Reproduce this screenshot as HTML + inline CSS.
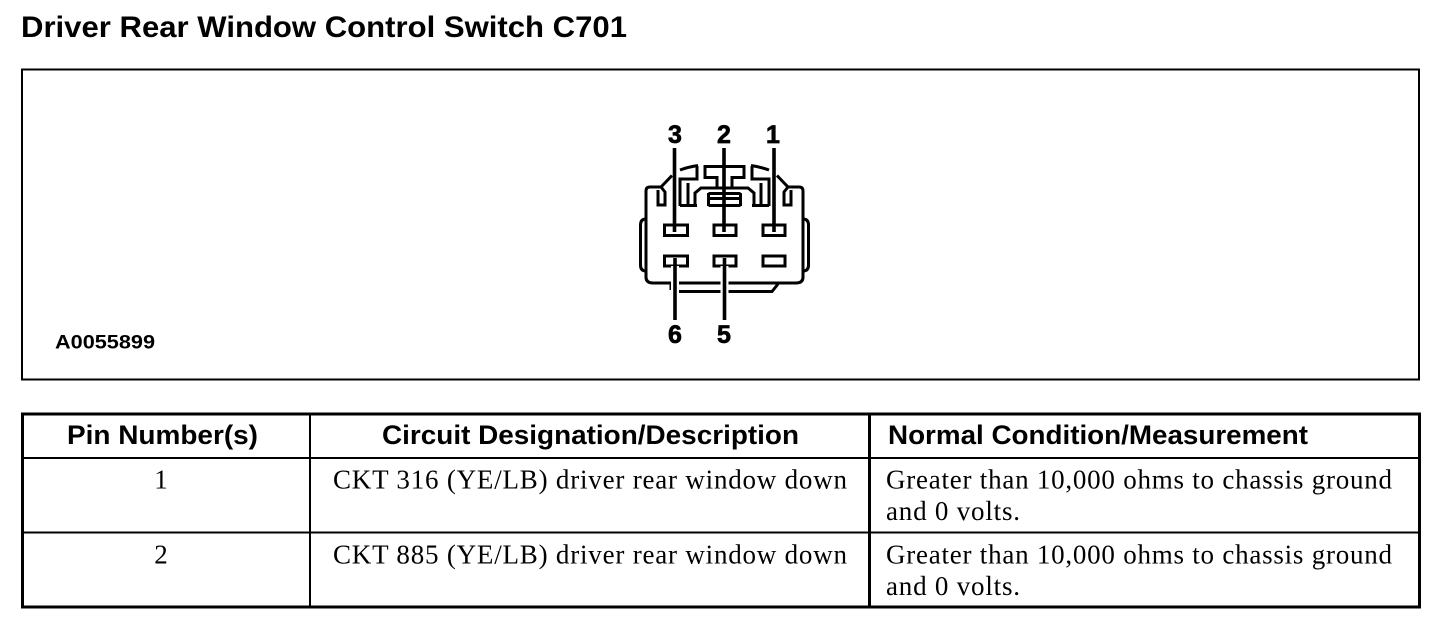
<!DOCTYPE html>
<html><head><meta charset="utf-8"><style>
html,body{margin:0;padding:0;background:#fff;width:1456px;height:624px;overflow:hidden}
svg{display:block}
.h{font-family:"Liberation Sans",sans-serif;font-weight:bold;fill:#000}
.s{font-family:"Liberation Serif",serif;fill:#000;font-size:27px}
</style></head><body>
<svg width="1456" height="624" viewBox="0 0 1456 624" xmlns="http://www.w3.org/2000/svg">
<text class="h" x="21" y="37" font-size="30" textLength="606" lengthAdjust="spacingAndGlyphs">Driver Rear Window Control Switch C701</text>
<rect x="22" y="69.5" width="1397" height="310" fill="none" stroke="#000" stroke-width="2"/>
<text class="h" x="55" y="348.500" font-size="19.5" textLength="100" lengthAdjust="spacingAndGlyphs">A0055899</text>

<!-- connector -->
<defs>
<g id="half" fill="none" stroke="#000" stroke-width="3">
<path d="M646 278V191Q646 187 650 187H661L672 175.5"/>
<path d="M646 219Q640.5 219 640.5 225V265Q640.5 271 646 271"/>
<path d="M661 187L665 192V205H658V190"/>
<path d="M680 170Q688 167 698 165.500"/>
<path d="M680 206V179H697V166"/>
<path d="M688 183V206"/>
<path d="M680 205.500H697"/>
<path d="M695 205V193L701 188H724"/>
<path d="M724 166.500H705V177.500H717V188"/>
<path d="M708.500 193.500H724M708.500 198.500H724M708.500 205.500H724M708.500 193V206"/>
</g>
</defs>
<use href="#half"/>
<use href="#half" transform="translate(1449 0) scale(-1 1)"/>
<g fill="none" stroke="#000" stroke-width="3">
<path d="M646 277Q646 283 653 283H796Q803 283 803 277"/>
<path d="M671 283V290M672 291.500H772L778 284"/>
<rect x="664.500" y="225" width="23" height="10.500"/>
<rect x="714" y="225" width="22" height="10.500"/>
<rect x="763" y="225" width="22" height="10.500"/>
<rect x="664.500" y="256" width="23" height="10"/>
<rect x="714" y="256" width="22" height="10"/>
<rect x="763" y="256" width="22" height="10"/>
</g>
<g stroke="#fff" stroke-width="8">
<path d="M675 266V296M724.500 266V296"/>
</g>
<g stroke="#000" stroke-width="3.600">
<path d="M674.500 148V232M724 148V232M774 148V232M675 258V320M724.500 258V320"/>
</g>
<g class="h" font-size="25" text-anchor="middle" stroke="#000" stroke-width="0.700">
<text x="675" y="143">3</text><text x="724" y="143">2</text><text x="773" y="143">1</text>
<text x="675" y="343">6</text><text x="724" y="343">5</text>
</g>

<!-- table -->
<g fill="none" stroke="#000">
<rect x="22.500" y="414" width="1397" height="193" stroke-width="3"/>
<path d="M22 458H1419" stroke-width="2"/>
<path d="M22 532.500H1419" stroke-width="2"/>
<path d="M310 413V607" stroke-width="2"/>
<path d="M869.500 413V607" stroke-width="3"/>
</g>
<g class="h" font-size="27">
<text x="67" y="444" textLength="191" lengthAdjust="spacingAndGlyphs">Pin Number(s)</text>
<text x="382" y="444" textLength="417" lengthAdjust="spacingAndGlyphs">Circuit Designation/Description</text>
<text x="888" y="444" textLength="420" lengthAdjust="spacingAndGlyphs">Normal Condition/Measurement</text>
</g>
<g class="s">
<text x="161" y="488.500" text-anchor="middle">1</text>
<text x="333" y="488.500" textLength="514" lengthAdjust="spacing">CKT 316 (YE/LB) driver rear window down</text>
<text x="886" y="488.500" textLength="506" lengthAdjust="spacing">Greater than 10,000 ohms to chassis ground</text>
<text x="886" y="520" textLength="134" lengthAdjust="spacing">and 0 volts.</text>
<text x="161" y="563.500" text-anchor="middle">2</text>
<text x="333" y="563.500" textLength="514" lengthAdjust="spacing">CKT 885 (YE/LB) driver rear window down</text>
<text x="886" y="563.500" textLength="506" lengthAdjust="spacing">Greater than 10,000 ohms to chassis ground</text>
<text x="886" y="595" textLength="134" lengthAdjust="spacing">and 0 volts.</text>
</g>
</svg>
</body></html>
